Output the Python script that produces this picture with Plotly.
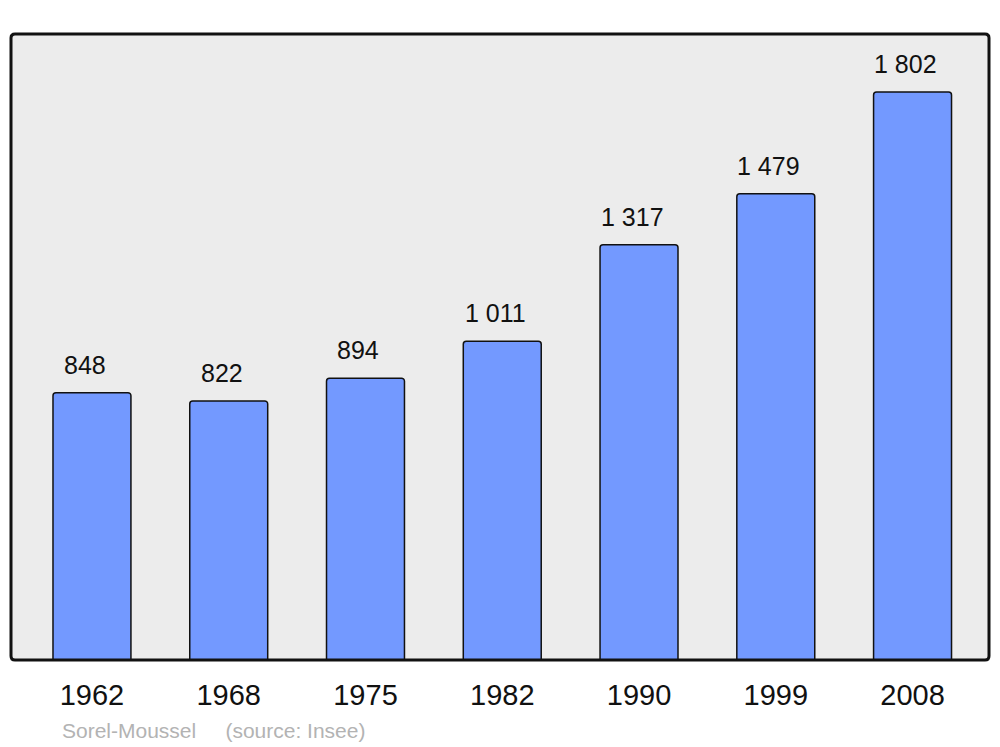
import plotly.graph_objects as go

years = ["1962", "1968", "1975", "1982", "1990", "1999", "2008"]
population = [848, 822, 894, 1011, 1317, 1479, 1802]
labels = ["848", "822", "894", "1 011", "1 317", "1 479", "1 802"]

fig = go.Figure()
fig.add_trace(go.Bar(
    x=years, y=population, width=0.57,
    marker=dict(color="#7399ff", line=dict(color="#111111", width=1.5), cornerradius=3),
    hoverinfo="skip",
))

for i, (v, t) in enumerate(zip(population, labels)):
    fig.add_annotation(x=i, y=v, text=t, showarrow=False, yanchor="middle", yshift=28, xshift=-7,
                       font=dict(family="Liberation Sans, Arial", size=25, color="#111111"))

PW, PH = 978, 626
fig.add_annotation(xref="paper", yref="paper", x=(60-11)/PW, y=0, yshift=-70, xanchor="left",
                   yanchor="middle", showarrow=False,
                   text="Sorel-Moussel&nbsp;&nbsp;&nbsp;&nbsp;&nbsp;(source: Insee)",
                   font=dict(family="Liberation Sans, Arial", size=21, color="#b3b3b3"))

rx, ry = 4 / PW, 4 / PH
path = (f"M {rx},0 L {1-rx},0 Q 1,0 1,{ry} L 1,{1-ry} Q 1,1 {1-rx},1 "
        f"L {rx},1 Q 0,1 0,{1-ry} L 0,{ry} Q 0,0 {rx},0 Z")
fig.add_shape(type="path", xref="paper", yref="paper", path=path,
              line=dict(color="#111111", width=3), layer="above")

fig.update_layout(
    width=992, height=739,
    margin=dict(l=3, r=11, t=26, b=87),
    paper_bgcolor="white", plot_bgcolor="#ececec",
    showlegend=False,
    xaxis=dict(type="category", range=[-0.592, 6.559], showgrid=False, zeroline=False, showline=False,
               ticks="", tickfont=dict(family="Liberation Sans, Arial", size=29, color="#111111"),
               ticklabelstandoff=15),
    yaxis=dict(range=[0, 1986], showgrid=False, zeroline=False, showticklabels=False, ticks=""),
)

fig.write_html("out.html")
